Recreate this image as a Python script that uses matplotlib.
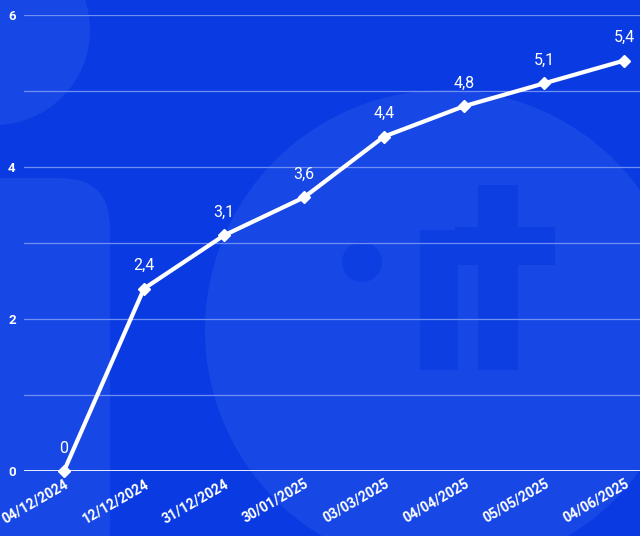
import matplotlib.pyplot as plt
from matplotlib.patches import Circle, Rectangle, FancyBboxPatch

# Datos
fechas = ['04/12/2024', '12/12/2024', '31/12/2024', '30/01/2025',
          '03/03/2025', '04/04/2025', '05/05/2025', '04/06/2025']
valores = [0, 2.4, 3.1, 3.6, 4.4, 4.8, 5.1, 5.4]
etiquetas = ['0', '2,4', '3,1', '3,6', '4,4', '4,8', '5,1', '5,4']
yticks = [0, 2, 4, 6]

fondo = '#0a3be2'
claro = '#1747e5'
oscuro = '#0d3ee1'

plt.rcParams['font.family'] = ['Roboto', 'DejaVu Sans']

W, H = 640, 536
fig = plt.figure(figsize=(6.4, 5.36), dpi=100)
fig.patch.set_facecolor(fondo)

# Logo decorativo de fondo, en un eje que cubre toda la figura (pixeles)
bg = fig.add_axes([0, 0, 1, 1], zorder=-1)
bg.set_xlim(0, W)
bg.set_ylim(H, 0)
bg.axis('off')
bg.add_patch(Circle((445, 330), 240, facecolor=claro, edgecolor='none'))
bg.add_patch(Circle((-5, 30), 95, facecolor=claro, edgecolor='none'))
bg.add_patch(FancyBboxPatch((-60, 178), 170, 400,
                            boxstyle='round,pad=0,rounding_size=50',
                            facecolor=claro, edgecolor='none'))
# "·it"
bg.add_patch(Circle((362, 262), 20, facecolor=oscuro, edgecolor='none'))
bg.add_patch(Rectangle((420, 230), 38, 140, facecolor=oscuro, edgecolor='none'))
bg.add_patch(Rectangle((478, 185), 40, 185, facecolor=oscuro, edgecolor='none'))
bg.add_patch(Rectangle((455, 227), 100, 38, facecolor=oscuro, edgecolor='none'))

ax = fig.add_axes([24 / W, 65 / H, 616 / W, 456 / H])
ax.set_facecolor('none')

x = list(range(len(fechas)))
ax.plot(x, valores, color='white', linewidth=3, marker='D', markersize=6.5,
        clip_on=False, zorder=5)

for xi, v, t in zip(x, valores, etiquetas):
    ax.annotate(t, (xi, v), xytext=(0, 11), textcoords='offset points',
                ha='center', va='bottom', color='white', fontsize=11.5)

ax.set_xlim(-0.5, 7.2)
ax.set_ylim(0, 6)
ax.set_yticks(yticks)
ax.set_yticklabels([str(t) for t in yticks], color='white', fontsize=9.5,
                   fontweight='bold')
for g in range(1, 7):
    ax.axhline(g, color='#6f8ff5', linewidth=0.9, zorder=1)
ax.axhline(0, color='#e6ecff', linewidth=1.4, zorder=2)

ax.set_xticks(x)
ax.set_xticklabels(fechas, rotation=30, ha='right', rotation_mode='anchor',
                   color='white', fontsize=10, fontweight='bold')
ax.tick_params(axis='both', length=0, pad=4)
ax.tick_params(axis='y', pad=6)
for s in ax.spines.values():
    s.set_visible(False)

fig.savefig('out.png', dpi=100, facecolor=fondo)
